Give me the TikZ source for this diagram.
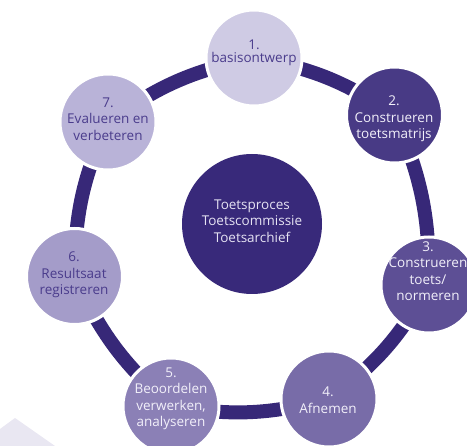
\documentclass[tikz,border=0pt]{standalone}
\usepackage{fontspec}
\setmainfont{Open Sans}
\usetikzlibrary{backgrounds}
\definecolor{ringc}{HTML}{372878}
\definecolor{cc}{HTML}{38297A}
\definecolor{c1}{HTML}{CFCBE4}
\definecolor{c2}{HTML}{483A85}
\definecolor{c3}{HTML}{5D4F95}
\definecolor{c4}{HTML}{786CA8}
\definecolor{c5}{HTML}{8B80B6}
\definecolor{c6}{HTML}{A49CC9}
\definecolor{c7}{HTML}{B9B3D8}
\definecolor{dtext}{HTML}{4A3C8C}
\definecolor{ltext}{HTML}{F2F0FA}
\definecolor{ctext}{HTML}{E6E3F3}
\definecolor{shadec}{HTML}{E9E7F2}
\begin{document}
\begin{tikzpicture}[x=1pt,y=-1pt,
  stage/.style={circle, minimum size=96pt, inner sep=0pt, draw=white, line width=3pt},
  lbl/.style={align=center, font=\fontsize{13.5}{16.5}\selectfont, inner sep=0pt},
  ringseg/.style={draw=ringc, line width=14pt}]
\useasboundingbox (0,0) rectangle (467,446);
\fill[shadec] (0,429) -- (15,418) -- (55,446) -- (0,446) -- cycle;
% stage circles
\node[stage, fill=c1] (n1) at (254,58) {};
\node[stage, fill=c2] (n2) at (394.5,115) {};
\node[stage, fill=c3] (n3) at (429,285) {};
\node[stage, fill=c4] (n4) at (329,399) {};
\node[stage, fill=c5] (n5) at (171,406) {};
\node[stage, fill=c6] (n6) at (74.5,276.5) {};
\node[stage, fill=c7] (n7) at (108,122) {};
\node[circle, minimum size=140pt, inner sep=0pt, fill=cc] (c) at (252,224) {};
% labels
\node[lbl, text=dtext, font=\fontsize{13.5}{13}\selectfont] (t1) at (254,53) {1.\\basisontwerp};
\node[lbl, text=ltext] (t2) at (394,119) {2.\\Construeren\\toetsmatrijs};
\node[lbl, text=ltext] (t3) at (428,271) {3.\\Construeren\\toets/\\normeren};
\node[lbl, text=ltext] (t4) at (328,400) {4.\\Afnemen};
\node[lbl, text=ltext] (t5) at (171,399) {5.\\Beoordelen\\verwerken,\\analyseren};
\node[lbl, text=dtext] (t6) at (74,275) {6.\\Resultsaat\\registreren};
\node[lbl, text=dtext] (t7) at (108,119) {7.\\Evalueren en\\verbeteren};
\node[lbl, text=ctext] (tc) at (252,221) {Toetsproces\\Toetscommissie\\Toetsarchief};
% ring segments
\begin{scope}[on background layer]
\draw[ringseg] (n1.center) to[bend left=12] (n2.center);
\draw[ringseg] (n2.center) to[bend left=12] (n3.center);
\draw[ringseg] (n3.center) to[bend left=12] (n4.center);
\draw[ringseg] (n4.center) to[bend left=12] (n5.center);
\draw[ringseg] (n5.center) to[bend left=12] (n6.center);
\draw[ringseg] (n6.center) to[bend left=12] (n7.center);
\draw[ringseg] (n7.center) to[bend left=12] (n1.center);
\end{scope}
\end{tikzpicture}
\end{document}
